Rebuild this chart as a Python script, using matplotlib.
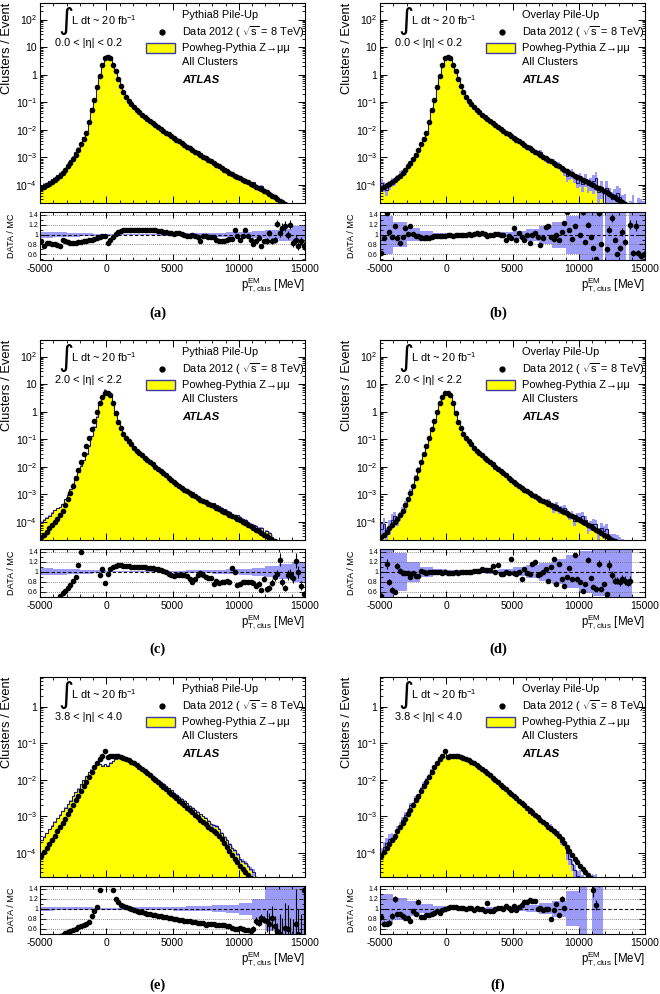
import numpy as np
import matplotlib
matplotlib.use("Agg")
import matplotlib.pyplot as plt
from matplotlib.ticker import (FixedLocator, MultipleLocator, LogLocator,
                               FuncFormatter, NullFormatter)
from matplotlib.patches import Rectangle

plt.rcParams['font.family'] = ['Liberation Sans', 'DejaVu Sans']
plt.rcParams['mathtext.fontset'] = 'custom'
plt.rcParams['mathtext.rm'] = 'Liberation Sans'
plt.rcParams['mathtext.it'] = 'Liberation Sans:italic'
plt.rcParams['mathtext.bf'] = 'Liberation Sans:bold'
plt.rcParams['axes.unicode_minus'] = False

# ---------------- data ----------------
x_min, x_max, bin_w = -5000, 15000, 200

# log10(clusters/event) of the data, per 200 MeV bin
data_eta02 = [-4.12,-4.08,-4.02,-3.96,-3.90,-3.84,-3.76,-3.68,-3.57,-3.45,
              -3.33,-3.20,-3.06,-2.90,-2.72,-2.53,-2.34,-2.10,-1.73,-1.27,
              -0.91,-0.45,-0.04,0.36,0.61,0.64,0.61,0.36,0.14,-0.15,
              -0.42,-0.63,-0.80,-0.94,-1.06,-1.17,-1.27,-1.37,-1.46,-1.54,
              -1.62,-1.69,-1.76,-1.83,-1.90,-1.96,-2.03,-2.10,-2.17,-2.23,
              -2.30,-2.36,-2.42,-2.48,-2.55,-2.61,-2.67,-2.73,-2.79,-2.85,
              -2.91,-2.97,-3.03,-3.09,-3.15,-3.21,-3.27,-3.33,-3.39,-3.45,
              -3.51,-3.56,-3.61,-3.66,-3.71,-3.76,-3.81,-3.86,-3.91,-3.96,
              -4.01,-4.06,-4.11,-4.16,-4.21,-4.27,-4.33,-4.39,-4.45,-4.51,
              -4.57,-4.63,-4.69,-4.75,-4.81,-4.87,-4.93,-4.99,-5.05,-5.11]
data_eta22 = [-4.55,-4.46,-4.36,-4.24,-4.12,-4.00,-3.88,-3.76,-3.60,-3.39,
              -3.18,-2.95,-2.70,-2.42,-2.12,-1.82,-1.53,-1.24,-0.95,-0.64,
              -0.34,0.00,0.30,0.55,0.69,0.69,0.61,0.30,-0.06,-0.36,
              -0.61,-0.80,-0.95,-1.08,-1.19,-1.30,-1.41,-1.50,-1.59,-1.67,
              -1.75,-1.83,-1.91,-1.99,-2.07,-2.15,-2.23,-2.31,-2.39,-2.47,
              -2.55,-2.62,-2.69,-2.76,-2.83,-2.89,-2.95,-3.01,-3.07,-3.13,
              -3.19,-3.24,-3.29,-3.34,-3.39,-3.44,-3.49,-3.54,-3.59,-3.64,
              -3.69,-3.74,-3.79,-3.84,-3.89,-3.94,-3.99,-4.04,-4.10,-4.16,
              -4.22,-4.28,-4.34,-4.40,-4.46,-4.52,-4.58,-4.64,-4.70,-4.76,
              -4.82,-4.88,-4.94,-5.00,-5.06,-5.12,-5.18,-5.24,-5.30,-5.36]
data_eta40 = [-4.07,-3.98,-3.87,-3.75,-3.65,-3.53,-3.41,-3.29,-3.18,-3.06,
              -2.94,-2.82,-2.69,-2.56,-2.44,-2.31,-2.18,-2.05,-1.93,-1.79,
              -1.65,-1.53,-1.44,-1.36,-1.20,-1.38,-1.35,-1.35,-1.35,-1.35,
              -1.37,-1.40,-1.43,-1.46,-1.50,-1.55,-1.59,-1.64,-1.70,-1.75,
              -1.82,-1.87,-1.94,-2.00,-2.06,-2.13,-2.19,-2.25,-2.32,-2.38,
              -2.45,-2.51,-2.57,-2.64,-2.70,-2.77,-2.83,-2.89,-2.96,-3.02,
              -3.09,-3.15,-3.22,-3.28,-3.35,-3.41,-3.45,-3.53,-3.62,-3.72,
              -3.83,-3.95,-4.06,-4.16,-4.26,-4.36,-4.44,-4.52,-4.60,-4.68,
              -4.76,-4.84,-4.92,-5.00,-5.08,-5.16,-5.24,-5.32,-5.40,-5.48,
              -5.56,-5.64,-5.72,-5.80,-5.88,-5.96,-6.04,-6.12,-6.20,-6.28]

nan = float('nan')
# DATA / MC per bin (nan = empty MC bin)
ratio_a = [0.87,0.77,0.83,0.82,0.80,0.80,0.79,0.77,0.89,0.88,
           0.86,0.82,0.83,0.84,0.85,0.86,0.87,0.87,0.89,0.90,
           0.92,0.93,0.95,0.97,0.98,0.82,0.90,0.95,1.02,1.06,
           1.08,1.09,1.10,1.10,1.10,1.10,1.10,1.10,1.10,1.10,
           1.10,1.10,1.09,1.09,1.08,1.07,1.06,1.05,1.04,1.04,
           1.01,1.03,1.03,1.02,1.00,0.97,0.97,1.00,0.97,0.96,
           0.87,0.98,0.98,0.96,0.95,0.95,0.89,0.88,0.87,0.88,
           0.89,0.91,0.92,1.10,0.98,0.89,0.98,1.09,0.98,0.90,
           0.80,0.87,0.93,0.77,0.88,0.87,1.03,0.87,0.89,1.22,
           1.03,1.13,1.17,1.00,1.20,0.83,0.90,0.77,0.87,0.77]
ratio_b = [0.63,0.93,1.44,1.05,0.95,1.17,0.93,0.83,0.95,1.13,
           1.02,1.18,1.02,0.97,0.97,0.94,0.93,0.93,0.94,0.96,
           0.97,0.97,0.98,0.98,0.98,0.99,0.99,0.98,0.99,0.99,
           1.00,1.00,1.00,1.01,1.00,1.02,1.03,1.02,1.03,1.02,
           0.97,1.00,1.00,1.02,1.01,1.00,1.00,0.90,0.98,0.93,
           1.13,0.89,1.03,0.96,0.89,1.00,0.83,1.00,1.03,0.95,
           0.78,0.93,1.15,1.18,0.95,0.91,1.00,0.89,1.05,1.23,
           1.45,1.10,0.92,1.18,1.60,1.00,1.45,0.85,1.20,0.95,
           0.73,0.51,1.43,0.80,nan,0.70,1.10,1.33,0.90,0.60,
           0.72,1.05,0.85,nan,1.20,0.63,1.18,0.63,0.57,0.60]
ratio_c = [0.28,0.30,0.32,0.34,0.36,0.38,0.42,0.52,0.58,0.62,
           0.67,0.74,0.82,0.89,1.13,1.40,1.70,1.90,1.90,1.80,
           1.60,1.50,0.93,1.05,0.78,0.96,1.05,1.10,1.12,1.13,
           1.13,1.12,1.12,1.11,1.10,1.10,1.10,1.09,1.09,1.09,
           1.08,1.08,1.07,1.06,1.05,1.03,1.01,1.00,0.96,0.93,
           0.92,0.93,0.94,0.94,0.93,0.92,0.86,0.80,0.86,0.93,
           0.98,0.93,0.90,0.87,0.87,0.76,0.82,0.78,0.80,0.80,
           0.81,0.80,1.07,1.00,0.74,0.76,0.79,0.79,0.80,0.80,
           0.78,0.72,0.76,0.64,0.86,0.65,0.67,0.78,0.89,0.95,
           1.24,0.79,0.67,0.93,0.95,0.88,1.22,1.00,0.72,0.55]
ratio_d = [0.52,0.40,1.15,0.79,0.63,0.60,1.11,1.02,0.98,0.97,
           0.98,0.89,0.98,0.91,0.92,1.02,0.99,0.98,0.99,1.00,
           0.99,1.00,0.99,0.98,0.99,0.98,0.97,0.98,0.99,0.98,
           0.99,0.99,1.00,1.00,1.00,1.01,1.01,1.02,1.06,1.03,
           1.03,1.03,1.12,1.00,1.14,0.96,0.96,0.99,0.98,1.25,
           0.97,0.96,1.00,0.86,1.06,0.97,0.96,1.16,1.20,0.93,
           0.95,1.00,1.06,0.82,1.10,1.26,0.76,1.16,0.86,0.72,
           0.90,1.08,0.86,1.33,0.85,0.79,0.62,0.76,1.24,0.88,
           0.69,0.65,1.16,0.66,0.75,0.55,1.13,0.93,0.82,0.82,
           0.80,0.85,0.82,0.78,0.82,nan,nan,nan,nan,nan]
ratio_e = [0.38,0.38,0.39,0.40,0.41,0.42,0.44,0.46,0.48,0.51,
           0.54,0.56,0.58,0.60,0.63,0.65,0.67,0.70,0.74,0.85,
           0.95,1.04,1.37,1.80,2.40,1.70,1.50,1.37,1.20,1.14,
           1.08,1.05,1.03,1.01,0.99,0.97,0.96,0.94,0.93,0.91,
           0.90,0.89,0.88,0.87,0.86,0.85,0.84,0.83,0.82,0.81,
           0.80,0.79,0.78,0.77,0.76,0.75,0.75,0.74,0.73,0.72,
           0.72,0.71,0.68,0.69,0.70,0.69,0.67,0.67,0.68,0.68,
           0.66,0.65,0.62,0.59,0.60,0.62,0.60,0.57,0.58,0.56,
           0.59,0.75,0.72,0.81,0.78,0.75,0.70,0.81,0.65,0.55,
           0.50,0.45,0.62,0.60,0.45,0.40,0.70,0.50,0.45,1.37]
ratio_f = [0.83,0.70,0.70,0.72,0.85,1.19,0.89,0.89,0.85,0.81,
           0.81,0.75,0.95,0.89,1.13,0.83,0.84,0.87,0.88,0.90,
           0.91,0.95,0.91,0.97,1.00,1.02,1.04,1.04,1.03,1.01,
           1.02,1.01,1.00,1.02,1.02,0.98,1.02,1.00,0.99,0.95,
           1.11,0.95,0.96,1.00,1.01,1.02,1.00,1.06,1.02,0.98,
           1.06,0.98,1.04,1.08,1.13,1.14,1.17,1.16,1.15,1.00,
           1.02,0.98,1.00,0.99,0.80,0.98,1.09,0.88,1.20,1.01,
           1.50,1.60,1.80,2.00,2.30,2.60,3.00,3.50,nan,nan,
           1.37,1.07,1.60,2.00,nan,nan,nan,nan,nan,nan,
           nan,nan,nan,nan,nan,nan,nan,nan,nan,nan]

# relative MC uncertainty, per 1000 MeV
band_a = [0.06,0.05,0.04,0.03,0.02,0.012,0.01,0.01,0.015,0.02,
          0.025,0.03,0.035,0.04,0.045,0.055,0.07,0.09,0.12,0.17]
band_b = [0.38,0.25,0.13,0.07,0.04,0.02,0.02,0.02,0.03,0.05,
          0.08,0.12,0.18,0.26,0.38,0.50,0.65,0.80,1.00,1.00]
band_c = [0.07,0.06,0.05,0.04,0.03,0.015,0.01,0.01,0.012,0.015,
          0.02,0.025,0.03,0.04,0.05,0.06,0.08,0.11,0.15,0.20]
band_d = [0.55,0.38,0.20,0.10,0.05,0.03,0.03,0.03,0.04,0.06,
          0.09,0.13,0.18,0.25,0.33,0.42,0.48,0.52,0.55,0.55]
band_e = [0.04,0.035,0.03,0.025,0.02,0.02,0.02,0.025,0.03,0.035,
          0.04,0.045,0.055,0.065,0.08,0.12,0.20,0.45,0.80,1.00]
band_f = [0.30,0.22,0.15,0.09,0.05,0.025,0.02,0.02,0.025,0.035,
          0.05,0.07,0.11,0.16,0.35,1.00,1.00,1.00,1.00,1.00]

# relative data uncertainty, per 1000 MeV
derr_eta02 = [0.03,0.03,0.02,0.015,0.01,0.004,0.004,0.004,0.005,0.006,
              0.008,0.012,0.016,0.02,0.028,0.035,0.045,0.06,0.08,0.10]
derr_eta22 = [0.08,0.05,0.03,0.015,0.005,0.003,0.003,0.003,0.004,0.005,
              0.007,0.01,0.015,0.02,0.03,0.045,0.06,0.08,0.10,0.12]
derr_eta40 = [0.06,0.05,0.04,0.03,0.02,0.01,0.008,0.008,0.01,0.012,
              0.015,0.02,0.03,0.04,0.05,0.06,0.10,0.30,0.80,1.00]

titles = ["Pythia8 Pile-Up", "Overlay Pile-Up"]
eta_labels = ["0.0 < |η| < 0.2", "2.0 < |η| < 2.2", "3.8 < |η| < 4.0"]
letters = ["(a)", "(b)", "(c)", "(d)", "(e)", "(f)"]
ratio_ticks = [0.6, 0.8, 1.0, 1.2, 1.4]
x_ticks = [-5000, 0, 5000, 10000, 15000]
main_ticks_top = [1e-4, 1e-3, 1e-2, 1e-1, 1, 10, 100]
main_ticks_bottom = [1e-4, 1e-3, 1e-2, 1e-1, 1]

# ---------------- style ----------------
YELLOW = '#ffff00'
LAV = '#9c9cf8'
OUTLINE = '#1a1a6e'
BOXEDGE = '#3a3aa8'

W, H = 660, 994
fig = plt.figure(figsize=(W / 100, H / 100), dpi=100)

edges = np.arange(x_min, x_max + 1, bin_w)
centers = edges[:-1] + bin_w / 2
TINY = 1e-12


def expand(v):
    return np.repeat(np.asarray(v, float), 5)


def add_ax(left, top, w, h):
    return fig.add_axes([left / W, 1 - (top + h) / H, w / W, h / H])


def log_fmt(v, pos):
    e = int(round(np.log10(v)))
    if e == 0:
        return "1"
    if e == 1:
        return "10"
    return r"$\mathdefault{10^{%d}}$" % e


def style_ticks(ax):
    ax.tick_params(which='both', direction='in', top=True, right=True)
    ax.tick_params(which='major', length=5, width=0.7)
    ax.tick_params(which='minor', length=2.5, width=0.6)
    for s in ax.spines.values():
        s.set_linewidth(0.8)


panels = [
    (0, 0, data_eta02, ratio_a, band_a, derr_eta02),
    (1, 0, data_eta02, ratio_b, band_b, derr_eta02),
    (0, 1, data_eta22, ratio_c, band_c, derr_eta22),
    (1, 1, data_eta22, ratio_d, band_d, derr_eta22),
    (0, 2, data_eta40, ratio_e, band_e, derr_eta40),
    (1, 2, data_eta40, ratio_f, band_f, derr_eta40),
]

for k, (col, row, dlog, rat, band, derr) in enumerate(panels):
    L = 40 + 340 * col
    dy = 337 * row
    ax = add_ax(L, 3 + dy, 265, 200)
    axr = add_ax(L, 212 + dy, 265, 48)

    d = 10.0 ** np.asarray(dlog, float)
    r = np.asarray(rat, float)
    ok = np.isfinite(r)
    mc = np.where(ok, d / np.where(ok, r, 1.0), 0.0)
    mcp = np.where(mc > 0, mc, TINY)
    b = expand(band)
    e = expand(derr)

    # ---- main panel ----
    ax.set_yscale('log')
    ax.stairs(mcp, edges, baseline=TINY, fill=True, color=YELLOW, lw=0, zorder=1)
    lo = np.clip(mc * (1 - np.minimum(b, 1.0)), TINY, None)
    hi = mc * (1 + b)
    ax.bar(centers[ok], (hi - lo)[ok], bottom=lo[ok], width=bin_w,
           color=LAV, lw=0, antialiased=False, zorder=2)
    ax.stairs(mcp, edges, baseline=None, color=OUTLINE, lw=0.8, zorder=3)
    elo = d * np.minimum(e, 0.95)
    ax.errorbar(centers, d, yerr=[elo, d * e], fmt='o', ms=3.0, color='k',
                elinewidth=0.8, capsize=0, zorder=4)
    ax.set_xlim(x_min, x_max)
    if row < 2:
        ax.set_ylim(2.2e-5, 400)
        ax.yaxis.set_major_locator(FixedLocator(main_ticks_top))
    else:
        ax.set_ylim(2.2e-5, 6.5)
        ax.yaxis.set_major_locator(FixedLocator(main_ticks_bottom))
    ax.yaxis.set_minor_locator(LogLocator(base=10, subs=np.arange(2, 10), numticks=20))
    ax.yaxis.set_major_formatter(FuncFormatter(log_fmt))
    ax.yaxis.set_minor_formatter(NullFormatter())
    ax.xaxis.set_major_locator(FixedLocator(x_ticks))
    ax.xaxis.set_minor_locator(MultipleLocator(1000))
    style_ticks(ax)
    ax.tick_params(axis='x', labelbottom=False)
    ax.tick_params(axis='y', labelsize=7.5, pad=2)

    # legend / labels
    tr = ax.transAxes
    fs = 7.9
    ax.text(0.536, 0.94, titles[col], transform=tr, fontsize=fs, va='center')
    ax.plot([0.46], [0.855], 'o', ms=3.5, color='k', transform=tr, clip_on=False)
    ax.text(0.536, 0.855, r"Data 2012 ( $\sqrt{\mathrm{s}}$ = 8 TeV)", transform=tr,
            fontsize=fs, va='center')
    ax.add_patch(Rectangle((0.40, 0.75), 0.11, 0.05, transform=tr, facecolor=YELLOW,
                           edgecolor=BOXEDGE, lw=1.0, zorder=5))
    ax.text(0.536, 0.775, "Powheg-Pythia Z→μμ", transform=tr, fontsize=fs, va='center')
    ax.text(0.536, 0.705, "All Clusters", transform=tr, fontsize=fs, va='center')
    ax.text(0.536, 0.615, "ATLAS", transform=tr, fontsize=fs + 0.3, va='center',
            fontweight='bold', fontstyle='italic')
    ax.text(0.097, 0.91, "∫", transform=tr, fontsize=21, va='center', ha='center',
            family='DejaVu Sans')
    ax.text(0.118, 0.915, r"L dt ~ 20 fb$^{-1}$", transform=tr, fontsize=fs, va='center')
    ax.text(0.057, 0.80, eta_labels[row], transform=tr, fontsize=fs, va='center')

    # ---- ratio panel ----
    bb = np.minimum(b, 1.0)
    axr.bar(centers[ok], 2 * bb[ok], bottom=1 - bb[ok], width=bin_w,
            color=LAV, lw=0, antialiased=False, zorder=1)
    for yv in [0.6, 0.8, 1.2, 1.4]:
        axr.axhline(yv, color='#666666', lw=0.6, ls=(0, (1, 1.5)), zorder=2)
    axr.axhline(1.0, color='k', lw=0.8, ls=(0, (3, 2)), zorder=2)
    axr.errorbar(centers[ok], r[ok], yerr=(r * e)[ok], fmt='o', ms=3.0, color='k',
                 elinewidth=0.8, capsize=0, zorder=4)
    axr.set_xlim(x_min, x_max)
    axr.set_ylim(0.49, 1.45)
    axr.xaxis.set_major_locator(FixedLocator(x_ticks))
    axr.xaxis.set_minor_locator(MultipleLocator(1000))
    axr.xaxis.set_major_formatter(FuncFormatter(lambda v, p: "%d" % v))
    axr.yaxis.set_major_locator(FixedLocator(ratio_ticks))
    axr.yaxis.set_minor_locator(MultipleLocator(0.1))
    axr.yaxis.set_major_formatter(FuncFormatter(lambda v, p: ("%g" % v)))
    style_ticks(axr)
    axr.tick_params(which='major', length=4)
    axr.tick_params(axis='x', labelsize=7.5, pad=3)
    axr.tick_params(axis='y', labelsize=5.0, pad=1.5)

    # axis titles
    fig.text((L - 33) / W, 1 - (3 + dy) / H, "Clusters / Event", rotation=90,
             ha='center', va='top', fontsize=9.3)
    fig.text((L - 28) / W, 1 - (236 + dy) / H, "DATA / MC", rotation=90,
             ha='center', va='center', fontsize=6.6)
    fig.text((L + 265) / W, 1 - (285 + dy) / H,
             r"$\mathrm{p}^{\mathrm{EM}}_{\mathrm{T,clus}}$ [MeV]",
             ha='right', va='center', fontsize=8.3)
    fig.text((L + 118) / W, 1 - (313 + 336 * row) / H, letters[k],
             ha='center', va='center', fontsize=10.5, fontweight='bold',
             family='Liberation Serif')

fig.savefig("out.png", dpi=100)
